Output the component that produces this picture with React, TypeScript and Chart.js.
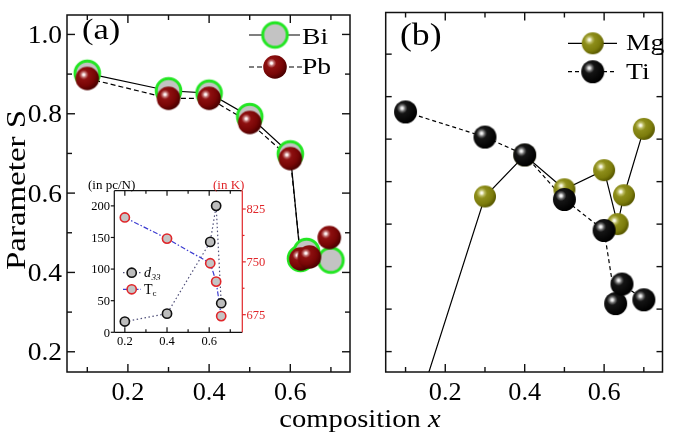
import React, { useEffect, useRef } from 'react';
import { Chart, registerables } from 'chart.js';
Chart.register(...registerables);

const SERIF = '"Liberation Serif", "Times New Roman", Times, serif';
const W = 675;
const H = 444;

// ---------- panel (a): Bi / Pb ----------
const compBi = [0.1, 0.3, 0.4, 0.5, 0.6, 0.625, 0.64, 0.7];
const sBi = [0.902, 0.858, 0.852, 0.793, 0.699, 0.435, 0.453, 0.431];
const compPb = [0.1, 0.3, 0.4, 0.5, 0.6, 0.626, 0.647, 0.696];
const sPb = [0.889, 0.839, 0.839, 0.778, 0.687, 0.434, 0.439, 0.488];

// ---------- panel (b): Mg / Ti ----------
const compMg = [0.1, 0.3, 0.4, 0.5, 0.6, 0.634, 0.65, 0.7];
const sMg = [-0.02, 0.565, 0.662, 0.582, 0.627, 0.5, 0.568, 0.724];
const compTi = [0.1, 0.3, 0.4, 0.5, 0.6, 0.629, 0.645, 0.7];
const sTi = [0.764, 0.705, 0.663, 0.558, 0.485, 0.313, 0.359, 0.322];

// ---------- inset: d33 / Tc ----------
const compInset = [0.2, 0.4, 0.605, 0.633, 0.657];
const d33 = [17, 29.5, 143, 200, 46];
const tc = [813, 783, 748, 722, 673];

// ---------- ticks ----------
const xMajor = [0.2, 0.4, 0.6];
const xMinor = [0.1, 0.3, 0.5, 0.7];
const yMajorA = [0.2, 0.4, 0.6, 0.8, 1.0];
const yMinorA = [0.3, 0.5, 0.7, 0.9];
const yTicksB = [0.2, 0.3, 0.4, 0.5, 0.6, 0.7, 0.8, 0.9];
const insetXMajor = [0.2, 0.4, 0.6];
const insetXMinor = [0.3, 0.5, 0.7];
const d33Ticks = [0, 50, 100, 150, 200];
const tcTicks = [675, 750, 825];
const tcMinor = [712.5, 787.5];

const RED = '#e0262a';

const pts = (xs: number[], ys: number[]) => xs.map((x, i) => ({ x, y: ys[i] }));

function makeSphere(r: number, stops: [number, string][]) {
  const s = Math.ceil(r * 2 + 2);
  const c = document.createElement('canvas');
  c.width = s;
  c.height = s;
  const g = c.getContext('2d')!;
  const cx = s / 2, cy = s / 2;
  const hx = cx - 0.3 * r, hy = cy - 0.32 * r;
  const grad = g.createRadialGradient(hx, hy, 0, hx, hy, r * 1.35);
  stops.forEach(([o, col]) => grad.addColorStop(o, col));
  g.fillStyle = grad;
  g.beginPath();
  g.arc(cx, cy, r, 0, Math.PI * 2);
  g.fill();
  return c;
}

function makeRing(r: number, fill: string, ring: string, lw: number) {
  const s = Math.ceil((r + lw) * 2 + 2);
  const c = document.createElement('canvas');
  c.width = s;
  c.height = s;
  const g = c.getContext('2d')!;
  g.beginPath();
  g.arc(s / 2, s / 2, r, 0, Math.PI * 2);
  g.fillStyle = fill;
  g.fill();
  g.lineWidth = lw;
  g.strokeStyle = ring;
  g.stroke();
  return c;
}

function drawText(
  ctx: CanvasRenderingContext2D,
  s: string,
  x: number,
  y: number,
  o: { size: number; align?: CanvasTextAlign; color?: string; italic?: boolean; sx?: number; rot?: number }
) {
  ctx.save();
  ctx.translate(x, y);
  if (o.rot) ctx.rotate(o.rot);
  ctx.scale(o.sx ?? 1, 1);
  ctx.font = `${o.italic ? 'italic ' : ''}${o.size}px ${SERIF}`;
  ctx.fillStyle = o.color ?? '#000';
  ctx.textAlign = o.align ?? 'left';
  ctx.textBaseline = 'alphabetic';
  ctx.fillText(s, 0, 0);
  ctx.restore();
}

function seg(ctx: CanvasRenderingContext2D, x1: number, y1: number, x2: number, y2: number) {
  ctx.beginPath();
  ctx.moveTo(x1, y1);
  ctx.lineTo(x2, y2);
  ctx.stroke();
}

function blit(ctx: CanvasRenderingContext2D, img: HTMLCanvasElement, x: number, y: number) {
  ctx.drawImage(img, x - img.width / 2, y - img.height / 2);
}

export default function App() {
  const refA = useRef<HTMLCanvasElement>(null);
  const refB = useRef<HTMLCanvasElement>(null);
  const refI = useRef<HTMLCanvasElement>(null);

  useEffect(() => {
    const biImg = makeRing(12.3, '#c3c3c3', '#22e622', 3);
    const pbImg = makeSphere(11.8, [
      [0, '#ffffff'], [0.06, '#fff2f2'], [0.16, '#c27474'], [0.3, '#8e1010'], [0.7, '#780606'], [1, '#4c0000'],
    ]);
    const mgImg = makeSphere(11, [
      [0, '#ffffff'], [0.07, '#f6f6dc'], [0.2, '#baba62'], [0.36, '#8e8e1a'], [0.75, '#7c7c0c'], [1, '#5a5a00'],
    ]);
    const tiImg = makeSphere(11.5, [
      [0, '#ffffff'], [0.07, '#e8e8e8'], [0.2, '#6a6a6a'], [0.34, '#151515'], [1, '#000000'],
    ]);

    const common = {
      animation: false as const,
      responsive: false,
      events: [] as any[],
      plugins: { legend: { display: false }, tooltip: { enabled: false } },
    };

    // ---------------- Panel (a) ----------------
    const chartA = new Chart(refA.current!, {
      type: 'line',
      data: {
        datasets: [
          { data: pts(compBi, sBi), borderColor: '#000', borderWidth: 1.2, pointRadius: 0, fill: false, order: 4 },
          { data: pts(compPb, sPb), borderColor: '#000', borderWidth: 1.2, borderDash: [5, 3], pointRadius: 0, fill: false, order: 3 },
          { data: pts(compBi, sBi), showLine: false, pointStyle: biImg as any, pointRadius: 14, order: 2 },
          { data: pts(compPb, sPb), showLine: false, pointStyle: pbImg as any, pointRadius: 12, order: 1 },
        ],
      },
      options: {
        ...common,
        layout: { padding: { left: 67, top: 3, right: W - 350, bottom: H - 372 } },
        scales: {
          x: { type: 'linear', min: 0.05, max: 0.747, display: false },
          y: { type: 'linear', min: 0.149, max: 1.049, display: false },
        },
      },
      plugins: [
        {
          id: 'frameA',
          afterDraw(chart: any) {
            const { ctx, chartArea: ca } = chart;
            const xs = chart.scales.x, ys = chart.scales.y;
            ctx.save();
            ctx.setLineDash([]);
            ctx.strokeStyle = '#111';
            ctx.lineWidth = 1.5;
            ctx.strokeRect(ca.left, ca.top, ca.right - ca.left, ca.bottom - ca.top);
            ctx.lineWidth = 1.4;
            const tx = (v: number, len: number) => {
              const p = xs.getPixelForValue(v);
              seg(ctx, p, ca.bottom, p, ca.bottom - len);
              seg(ctx, p, ca.top, p, ca.top + len);
            };
            const ty = (v: number, len: number) => {
              const p = ys.getPixelForValue(v);
              seg(ctx, ca.left, p, ca.left + len, p);
              seg(ctx, ca.right, p, ca.right - len, p);
            };
            xMajor.forEach(v => tx(v, 8));
            xMinor.forEach(v => tx(v, 5));
            yMajorA.forEach(v => ty(v, 8));
            yMinorA.forEach(v => ty(v, 5));
            xMajor.forEach(v => drawText(ctx, v.toFixed(1), xs.getPixelForValue(v), 400, { size: 25, align: 'center', sx: 1.05 }));
            yMajorA.forEach(v => drawText(ctx, v.toFixed(1), 62, ys.getPixelForValue(v) + 8.5, { size: 25, align: 'right', sx: 1.1 }));
            // panel label
            drawText(ctx, '(a)', 82, 39, { size: 30, sx: 1.15 });
            // legend
            ctx.strokeStyle = '#000';
            ctx.lineWidth = 1.2;
            seg(ctx, 249, 35, 300, 35);
            blit(ctx, biImg, 275, 35);
            ctx.setLineDash([5, 3]);
            seg(ctx, 249, 67, 302, 67);
            ctx.setLineDash([]);
            blit(ctx, pbImg, 275, 67);
            drawText(ctx, 'Bi', 302, 43.5, { size: 23, sx: 1.2 });
            drawText(ctx, 'Pb', 302, 73.5, { size: 23, sx: 1.2 });
            // axis titles
            drawText(ctx, 'Parameter S', 25, 190, { size: 27, align: 'center', sx: 1.22, rot: -Math.PI / 2 });
            ctx.font = `26px ${SERIF}`;
            const w1 = ctx.measureText('composition ').width;
            ctx.font = `italic 26px ${SERIF}`;
            const w2 = ctx.measureText('x').width;
            const sx = 1.1;
            const x0 = 360 - ((w1 + w2) * sx) / 2;
            drawText(ctx, 'composition ', x0, 427, { size: 26, sx });
            drawText(ctx, 'x', x0 + w1 * sx, 427, { size: 26, sx, italic: true });
            ctx.restore();
          },
        },
      ],
    } as any);

    // ---------------- Panel (b) ----------------
    const chartB = new Chart(refB.current!, {
      type: 'line',
      data: {
        datasets: [
          { data: pts(compMg, sMg), borderColor: '#000', borderWidth: 1.2, pointRadius: 0, fill: false, order: 4 },
          { data: pts(compTi, sTi), borderColor: '#000', borderWidth: 1.2, borderDash: [4, 3], pointRadius: 0, fill: false, order: 3 },
          { data: pts(compMg, sMg), showLine: false, pointStyle: mgImg as any, pointRadius: 11, order: 2 },
          { data: pts(compTi, sTi), showLine: false, pointStyle: tiImg as any, pointRadius: 11.5, order: 1 },
        ],
      },
      options: {
        ...common,
        layout: { padding: { left: 385.7, top: 3, right: W - 669, bottom: H - 372 } },
        scales: {
          x: { type: 'linear', min: 0.05, max: 0.747, display: false },
          y: { type: 'linear', min: 0.152, max: 0.998, display: false },
        },
      },
      plugins: [
        {
          id: 'frameB',
          afterDraw(chart: any) {
            const { ctx, chartArea: ca } = chart;
            const xs = chart.scales.x, ys = chart.scales.y;
            ctx.save();
            ctx.setLineDash([]);
            ctx.strokeStyle = '#111';
            ctx.lineWidth = 1.5;
            ctx.strokeRect(ca.left, ca.top, ca.right - ca.left, ca.bottom - ca.top);
            ctx.lineWidth = 1.4;
            const tx = (v: number, len: number) => {
              const p = xs.getPixelForValue(v);
              seg(ctx, p, ca.bottom, p, ca.bottom - len);
              seg(ctx, p, ca.top, p, ca.top + len);
            };
            xMajor.forEach(v => tx(v, 8));
            xMinor.forEach(v => tx(v, 5));
            yTicksB.forEach(v => {
              const p = ys.getPixelForValue(v);
              seg(ctx, ca.left, p, ca.left + 6, p);
              seg(ctx, ca.right, p, ca.right - 6, p);
            });
            xMajor.forEach(v => drawText(ctx, v.toFixed(1), xs.getPixelForValue(v), 400, { size: 25, align: 'center', sx: 1.05 }));
            drawText(ctx, '(b)', 400, 45, { size: 31, sx: 1.15 });
            ctx.strokeStyle = '#000';
            ctx.lineWidth = 1.2;
            seg(ctx, 568, 43.3, 617, 43.3);
            blit(ctx, mgImg, 592.7, 43.3);
            ctx.setLineDash([4, 3]);
            seg(ctx, 568, 71.7, 617, 71.7);
            ctx.setLineDash([]);
            blit(ctx, tiImg, 592.7, 71.7);
            drawText(ctx, 'Mg', 626, 50, { size: 24, sx: 1.15 });
            drawText(ctx, 'Ti', 626, 79, { size: 24, sx: 1.15 });
            ctx.restore();
          },
        },
      ],
    } as any);

    // ---------------- Inset ----------------
    const chartI = new Chart(refI.current!, {
      type: 'line',
      data: {
        datasets: [
          { data: pts(compInset, d33), yAxisID: 'y', borderColor: '#50507a', borderWidth: 1.2, borderDash: [1.5, 2.5], pointRadius: 0, fill: false, order: 4 },
          { data: pts(compInset, tc), yAxisID: 'y2', borderColor: '#3b3bd0', borderWidth: 1.2, borderDash: [5, 2, 1.5, 2], pointRadius: 0, fill: false, order: 3 },
          { data: pts(compInset, d33), yAxisID: 'y', showLine: false, pointRadius: 4.6, pointBackgroundColor: '#bdbdbd', pointBorderColor: '#111', pointBorderWidth: 1.6, order: 2 },
          { data: pts(compInset, tc), yAxisID: 'y2', showLine: false, pointRadius: 4.6, pointBackgroundColor: '#c4c4c4', pointBorderColor: RED, pointBorderWidth: 1.6, order: 1 },
        ],
      },
      options: {
        ...common,
        layout: { padding: { left: 114.3, top: 190.7, right: W - 242.3, bottom: H - 332.3 } },
        scales: {
          x: { type: 'linear', min: 0.15, max: 0.757, display: false },
          y: { type: 'linear', min: 0, max: 224, display: false },
          y2: { type: 'linear', position: 'right', min: 650, max: 851, display: false },
        },
      },
      plugins: [
        {
          id: 'frameI',
          afterDraw(chart: any) {
            const { ctx, chartArea: ca } = chart;
            const xs = chart.scales.x, ys = chart.scales.y, y2 = chart.scales.y2;
            ctx.save();
            ctx.setLineDash([]);
            ctx.lineWidth = 1.2;
            ctx.strokeStyle = '#111';
            seg(ctx, ca.left, ca.top, ca.right, ca.top);
            seg(ctx, ca.left, ca.bottom, ca.right, ca.bottom);
            seg(ctx, ca.left, ca.top, ca.left, ca.bottom);
            const tx = (v: number, len: number) => {
              const p = xs.getPixelForValue(v);
              seg(ctx, p, ca.bottom, p, ca.bottom - len);
              seg(ctx, p, ca.top, p, ca.top + len);
            };
            insetXMajor.forEach(v => tx(v, 5));
            insetXMinor.forEach(v => tx(v, 3));
            d33Ticks.forEach(v => {
              const p = ys.getPixelForValue(v);
              seg(ctx, ca.left, p, ca.left - 3.5, p);
              drawText(ctx, String(v), 110, p + 4.3, { size: 12.5, align: 'right' });
            });
            insetXMajor.forEach(v => drawText(ctx, v.toFixed(1), xs.getPixelForValue(v), 345, { size: 12.5, align: 'center' }));
            ctx.strokeStyle = RED;
            seg(ctx, ca.right, ca.top, ca.right, ca.bottom);
            tcTicks.forEach(v => {
              const p = y2.getPixelForValue(v);
              seg(ctx, ca.right, p, ca.right + 3.5, p);
              drawText(ctx, String(v), 246.5, p + 4.3, { size: 12.5, color: RED });
            });
            tcMinor.forEach(v => {
              const p = y2.getPixelForValue(v);
              seg(ctx, ca.right, p, ca.right + 2.2, p);
            });
            drawText(ctx, '(in pc/N)', 88, 188.5, { size: 13 });
            drawText(ctx, '(in K)', 213, 188.5, { size: 13, color: RED });
            // legend
            ctx.lineWidth = 1.2;
            ctx.strokeStyle = '#50507a';
            ctx.setLineDash([1.5, 2.5]);
            seg(ctx, 123, 272.7, 141, 272.7);
            ctx.strokeStyle = '#3b3bd0';
            ctx.setLineDash([5, 2, 1.5, 2]);
            seg(ctx, 123, 289.3, 141, 289.3);
            ctx.setLineDash([]);
            ctx.lineWidth = 1.6;
            ctx.beginPath();
            ctx.arc(131.7, 272.7, 4.6, 0, Math.PI * 2);
            ctx.fillStyle = '#bdbdbd';
            ctx.fill();
            ctx.strokeStyle = '#111';
            ctx.stroke();
            ctx.beginPath();
            ctx.arc(131.7, 289.3, 4.6, 0, Math.PI * 2);
            ctx.fillStyle = '#c4c4c4';
            ctx.fill();
            ctx.strokeStyle = RED;
            ctx.stroke();
            drawText(ctx, 'd', 144, 277, { size: 14, italic: true });
            drawText(ctx, '33', 151.5, 279.5, { size: 9, italic: true });
            drawText(ctx, 'T', 144, 293.5, { size: 14 });
            drawText(ctx, 'c', 152.5, 296, { size: 9 });
            ctx.restore();
          },
        },
      ],
    } as any);

    return () => {
      chartA.destroy();
      chartB.destroy();
      chartI.destroy();
    };
  }, []);

  const cs: React.CSSProperties = { position: 'absolute', left: 0, top: 0, width: W, height: H };
  return (
    <div style={{ position: 'fixed', left: 0, top: 0, width: W, height: H, background: '#fff' }}>
      <canvas ref={refA} width={W} height={H} style={cs} />
      <canvas ref={refB} width={W} height={H} style={cs} />
      <canvas ref={refI} width={W} height={H} style={cs} />
    </div>
  );
}
